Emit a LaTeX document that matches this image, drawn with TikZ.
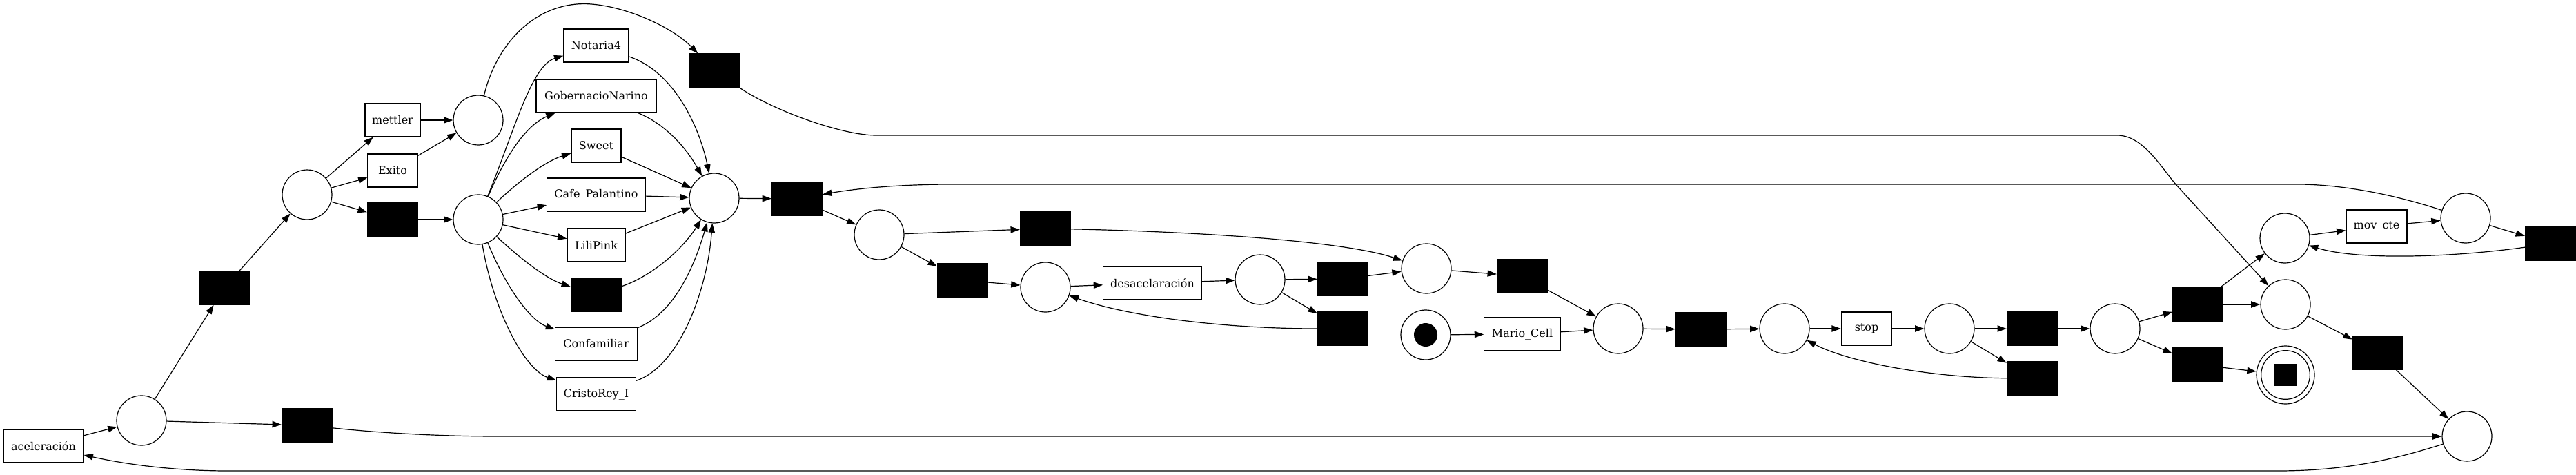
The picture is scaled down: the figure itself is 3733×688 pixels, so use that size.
\documentclass[tikz,border=0pt]{standalone}
\usepackage{fontspec}
\setmainfont{DejaVu Serif}
\usetikzlibrary{arrows.meta}
\begin{document}
\begin{tikzpicture}[x=0.75pt,y=-0.75pt,
  place/.style={circle,draw,line width=0.9pt,minimum size=54pt,inner sep=0pt},
  trans/.style={rectangle,draw,line width=0.9pt,fill=black,minimum width=54.75pt,minimum height=36pt,inner sep=0pt},
  lab/.style={rectangle,draw,line width=0.9pt,minimum height=36pt,inner sep=0pt,font=\fontsize{12}{14}\selectfont},
  flow/.style={draw,line width=0.9pt,-{Triangle[length=10pt,width=7pt]}},
  startplace/.style={place,path picture={\fill (path picture bounding box.center) circle[radius=12.75pt];}},
  endplace/.style={circle,draw,line width=0.9pt,minimum size=63pt,inner sep=0pt,
     path picture={\draw[line width=0.9pt] (path picture bounding box.center) circle[radius=26.5pt];
                   \fill ([shift={(-12pt,-12pt)}]path picture bounding box.center) rectangle ++(24pt,24pt);}},
  ]
\useasboundingbox (0,0) rectangle (3733,688);

% nodes
\node[lab,minimum width=87pt] (acel) at (63,646) {aceleración};
\node[place] (p1) at (205,609) {};
\node[trans] (ta) at (325,417) {};
\node[trans] (tb) at (445,616) {};
\node[place] (p2) at (445,282) {};
\node[lab,minimum width=60pt] (mettler) at (569,174) {mettler};
\node[lab,minimum width=54pt] (exito) at (569,247) {Exito};
\node[trans] (tc) at (569,318) {};
\node[place] (p3) at (693,174) {};
\node[place] (hub) at (693,318) {};
\node[lab,minimum width=70.5pt] (notaria) at (864,66) {Notaria4};
\node[lab,minimum width=130.5pt] (gober) at (864,139) {GobernacioNarino};
\node[lab,minimum width=54pt] (sweet) at (864,211) {Sweet};
\node[lab,minimum width=107pt] (cafe) at (864,282) {Cafe\_Palantino};
\node[lab,minimum width=63pt] (lili) at (864,355) {LiliPink};
\node[trans] (tmid) at (864,427) {};
\node[lab,minimum width=89pt] (confa) at (864,498) {Confamiliar};
\node[lab,minimum width=86pt] (cristo) at (864,571) {CristoRey\_I};
\node[trans] (ttop) at (1035,102) {};
\node[place] (join) at (1035,287) {};
\node[trans] (tj) at (1155,288) {};
\node[place] (p4) at (1274,340) {};
\node[trans] (te) at (1515,331) {};
\node[trans] (tf) at (1395,406) {};
\node[place] (p5) at (1515,416) {};
\node[lab,minimum width=107pt] (desac) at (1670,410) {desacelaración};
\node[place] (p6) at (1826,405) {};
\node[trans] (tg) at (1946,404) {};
\node[trans] (th) at (1946,476) {};
\node[place] (p7) at (2067,389) {};
\node[trans] (tk) at (2206,400) {};
\node[startplace] (start) at (2066,485) {};
\node[lab,minimum width=83pt] (mario) at (2206,484) {Mario\_Cell};
\node[place] (p8) at (2345,476) {};
\node[trans] (tl) at (2465,477) {};
\node[place] (p9) at (2586,476) {};
\node[lab,minimum width=55pt] (stop) at (2705,476) {stop};
\node[place] (p10) at (2825,476) {};
\node[trans] (tm) at (2945,476) {};
\node[trans] (tn) at (2945,548) {};
\node[place] (p11) at (3065,476) {};
\node[trans] (to) at (3185,441) {};
\node[trans] (tp) at (3185,528) {};
\node[place] (pU) at (3311,345) {};
\node[place] (pM) at (3312,441) {};
\node[endplace] (fin) at (3312,543) {};
\node[lab,minimum width=66pt] (movcte) at (3444,328) {mov\_cte};
\node[place] (pR) at (3573,316) {};
\node[trans] (tq) at (3696,353) {};
\node[trans] (tr) at (3446,511) {};
\node[place] (pBR) at (3575,632) {};

% edges
\draw[flow] (acel) -- (p1);
\draw[flow] (p1) -- (ta);
\draw[flow] (p1) -- (tb);
\draw[flow] (ta) -- (p2);
\draw[flow] (p2) -- (mettler);
\draw[flow] (p2) -- (exito);
\draw[flow] (p2) -- (tc);
\draw[flow] (mettler) -- (p3);
\draw[flow] (exito) -- (p3);
\draw[flow] (tc) -- (hub);
\draw[flow] (p3) .. controls (720,60) and (780,0) .. (857,6) .. controls (910,10) and (975,40) .. (ttop);

\draw[flow] (hub) .. controls (745,190) and (770,95) .. (notaria);
\draw[flow] (hub) .. controls (735,220) and (765,180) .. (gober);
\draw[flow] (hub) .. controls (760,255) and (795,232) .. (sweet);
\draw[flow] (hub) -- (cafe);
\draw[flow] (hub) -- (lili);
\draw[flow] (hub) .. controls (760,380) and (795,405) .. (tmid);
\draw[flow] (hub) .. controls (735,420) and (770,465) .. (confa);
\draw[flow] (hub) .. controls (715,450) and (760,535) .. (cristo);

\draw[flow] (notaria) .. controls (980,105) and (1015,190) .. (join);
\draw[flow] (gober) .. controls (965,180) and (995,215) .. (join);
\draw[flow] (sweet) -- (join);
\draw[flow] (cafe) -- (join);
\draw[flow] (lili) -- (join);
\draw[flow] (tmid) .. controls (945,400) and (990,360) .. (join);
\draw[flow] (confa) .. controls (975,455) and (1005,390) .. (join);
\draw[flow] (cristo) .. controls (985,530) and (1025,420) .. (join);

\draw[flow] (ttop) .. controls (1120,160) and (1220,196) .. (1270,196) -- (3068,196)
   .. controls (3105,196) and (3130,240) .. (3153,267) -- (pM);

\draw[flow] (tb) .. controls (560,628) and (650,632) .. (720,632) -- (pBR);
\draw[flow] (pBR) .. controls (3450,672) and (3380,682) .. (3300,682) -- (330,682)
   .. controls (250,682) and (180,672) .. (acel);

\draw[flow] (join) -- (tj);
\draw[flow] (tj) -- (p4);
\draw[flow] (p4) -- (te);
\draw[flow] (p4) -- (tf);
\draw[flow] (tf) -- (p5);
\draw[flow] (p5) -- (desac);
\draw[flow] (desac) -- (p6);
\draw[flow] (p6) -- (tg);
\draw[flow] (p6) -- (th);
\draw[flow] (th) .. controls (1780,476) and (1640,460) .. (p5);
\draw[flow] (tg) -- (p7);
\draw[flow] (te) .. controls (1750,336) and (1950,350) .. (p7);
\draw[flow] (p7) -- (tk);
\draw[flow] (tk) -- (p8);
\draw[flow] (start) -- (mario);
\draw[flow] (mario) -- (p8);
\draw[flow] (p8) -- (tl);
\draw[flow] (tl) -- (p9);
\draw[flow] (p9) -- (stop);
\draw[flow] (stop) -- (p10);
\draw[flow] (p10) -- (tm);
\draw[flow] (p10) -- (tn);
\draw[flow] (tn) .. controls (2800,547) and (2680,525) .. (p9);
\draw[flow] (tm) -- (p11);
\draw[flow] (p11) -- (to);
\draw[flow] (p11) -- (tp);
\draw[flow] (to) -- (pU);
\draw[flow] (to) -- (pM);
\draw[flow] (tp) -- (fin);
\draw[flow] (pU) -- (movcte);
\draw[flow] (movcte) -- (pR);
\draw[flow] (pR) -- (tq);
\draw[flow] (tq) .. controls (3560,372) and (3420,378) .. (pU);
\draw[flow] (pR) .. controls (3480,285) and (3400,267) .. (3330,267) -- (1380,267)
   .. controls (1290,267) and (1230,275) .. (tj);
\draw[flow] (pM) -- (tr);
\draw[flow] (tr) -- (pBR);
\end{tikzpicture}
\end{document}
